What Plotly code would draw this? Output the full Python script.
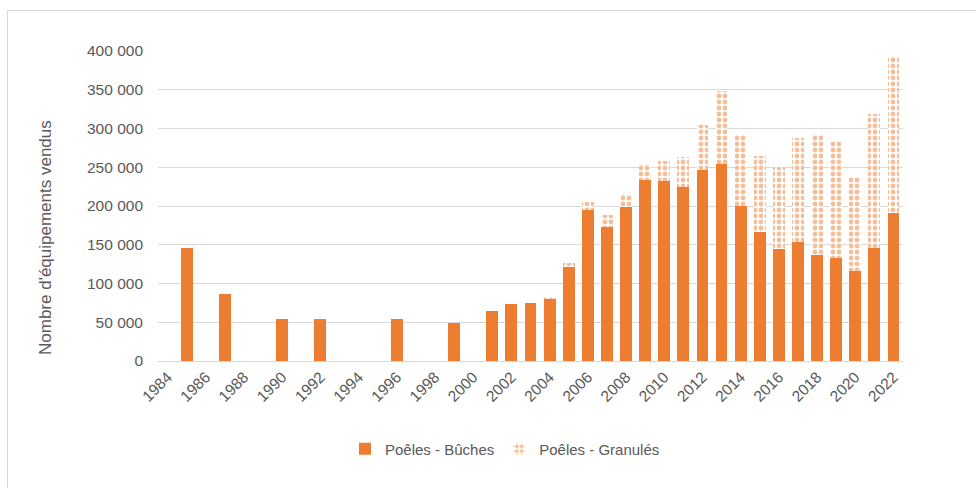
import plotly.graph_objects as go

# Annual sales of wood stoves (units)
years = [str(y) for y in range(1984, 2023)]
data_years = ["1985", "1987", "1990", "1992", "1996", "1999"] + [str(y) for y in range(2001, 2023)]
buches = [146000, 87000, 54000, 54000, 54000, 49000,
          65000, 74000, 75000, 80000, 121000, 195000, 173000, 199000, 234000, 232000,
          225000, 247000, 254000, 200000, 166000, 144000, 153000, 137000, 133000, 116000,
          146000, 191000]
granules = [0, 0, 0, 0, 0, 0,
            0, 0, 0, 2000, 6000, 10000, 15000, 17000, 20000, 26000,
            38000, 58000, 94000, 92000, 98000, 106000, 135000, 154000, 149000, 121000,
            173000, 201000]
x_ticks = [str(y) for y in range(1984, 2023, 2)]
y_ticks = [0, 50000, 100000, 150000, 200000, 250000, 300000, 350000, 400000]

ORANGE = "#ED7D31"
TEXT = "#595959"
GRID = "#D9D9D9"

W, H = 976, 488
L, R, T, B = 158, 73, 51, 127
pw, ph = W - L - R, H - T - B


def px_x(v):
    return (v - L) / pw


def px_y(v):
    return (H - B - v) / ph


fig = go.Figure()
fig.add_trace(go.Bar(
    x=data_years, y=buches, name="Poêles - Bûches",
    marker=dict(color=ORANGE, line=dict(width=0)),
))
fig.add_trace(go.Bar(
    x=data_years, y=[g if g > 0 else None for g in granules], name="Poêles - Granulés",
    marker=dict(color="white", line=dict(width=0),
                pattern=dict(shape=".", fgcolor=ORANGE, bgcolor="white",
                             size=6, solidity=0.5)),
))

fig.update_layout(
    barmode="stack",
    bargap=0.38,
    width=W, height=H,
    margin=dict(l=L, r=R, t=T, b=B),
    paper_bgcolor="white",
    plot_bgcolor="white",
    separators=", ",
    font=dict(family="Liberation Sans, Arial, sans-serif", size=15, color=TEXT),
    showlegend=True,
    legend=dict(orientation="h", x=px_x(505), xanchor="center",
                y=px_y(449), yanchor="middle",
                font=dict(size=15, color=TEXT), itemwidth=30,
                traceorder="normal"),
    xaxis=dict(
        type="category", categoryorder="array", categoryarray=years,
        range=[-0.5, len(years) - 0.5],
        tickmode="array", tickvals=x_ticks, ticktext=x_ticks,
        tickangle=-45, showgrid=False, showline=True, linecolor=GRID, linewidth=1,
        ticks="", tickfont=dict(size=15.5, color=TEXT),
    ),
    yaxis=dict(
        range=[0, 400000], tickmode="array", tickvals=y_ticks,
        tickformat=",d", showgrid=True, gridcolor=GRID, gridwidth=1,
        zeroline=False, showline=False, ticks="", ticklabelstandoff=14,
        tickfont=dict(size=15.5, color=TEXT),
    ),
    shapes=[
        dict(type="line", xref="paper", yref="paper",
             x0=px_x(7.5), x1=px_x(980), y0=px_y(10.5), y1=px_y(10.5),
             line=dict(color=GRID, width=1)),
        dict(type="line", xref="paper", yref="paper",
             x0=px_x(7.5), x1=px_x(7.5), y0=px_y(10.5), y1=px_y(495),
             line=dict(color=GRID, width=1)),
    ],
    annotations=[
        dict(text="Nombre d'équipements vendus", textangle=-90,
             xref="paper", yref="paper", x=px_x(45), y=px_y(238),
             xanchor="center", yanchor="middle", showarrow=False,
             font=dict(size=17, color=TEXT)),
    ],
)

fig.write_html("out.html")
